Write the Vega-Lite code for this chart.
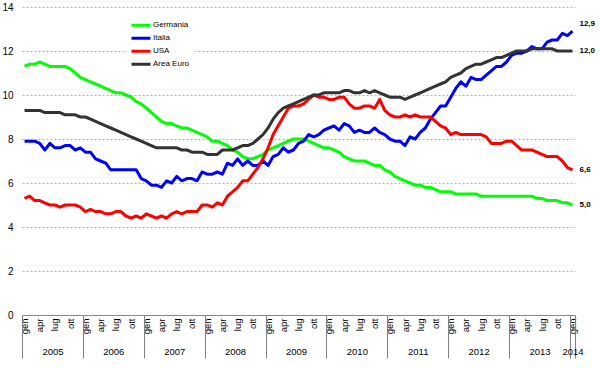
{
  "$schema": "https://vega.github.io/schema/vega-lite/v6.json",
  "width": 553,
  "height": 308,
  "padding": {"left": 1, "top": 2, "right": 0, "bottom": 0},
  "background": "white",
  "config": {
    "view": {"stroke": null},
    "font": "Liberation Sans",
    "locale": {"number": {"decimal": ",", "thousands": ".", "grouping": [3], "currency": ["", " €"]}}
  },
  "data": {"values": [
    {"t":0,"Germania":11.3,"Italia":7.9,"USA":5.3,"Area Euro":9.3},
    {"t":1,"Germania":11.4,"Italia":7.9,"USA":5.4,"Area Euro":9.3},
    {"t":2,"Germania":11.4,"Italia":7.9,"USA":5.2,"Area Euro":9.3},
    {"t":3,"Germania":11.5,"Italia":7.8,"USA":5.2,"Area Euro":9.3},
    {"t":4,"Germania":11.4,"Italia":7.5,"USA":5.1,"Area Euro":9.2},
    {"t":5,"Germania":11.3,"Italia":7.8,"USA":5.0,"Area Euro":9.2},
    {"t":6,"Germania":11.3,"Italia":7.6,"USA":5.0,"Area Euro":9.2},
    {"t":7,"Germania":11.3,"Italia":7.6,"USA":4.9,"Area Euro":9.2},
    {"t":8,"Germania":11.3,"Italia":7.7,"USA":5.0,"Area Euro":9.1},
    {"t":9,"Germania":11.2,"Italia":7.7,"USA":5.0,"Area Euro":9.1},
    {"t":10,"Germania":11.0,"Italia":7.5,"USA":5.0,"Area Euro":9.1},
    {"t":11,"Germania":10.8,"Italia":7.6,"USA":4.9,"Area Euro":9.0},
    {"t":12,"Germania":10.7,"Italia":7.4,"USA":4.7,"Area Euro":9.0},
    {"t":13,"Germania":10.6,"Italia":7.4,"USA":4.8,"Area Euro":8.9},
    {"t":14,"Germania":10.5,"Italia":7.1,"USA":4.7,"Area Euro":8.8},
    {"t":15,"Germania":10.4,"Italia":7.0,"USA":4.7,"Area Euro":8.7},
    {"t":16,"Germania":10.3,"Italia":6.9,"USA":4.6,"Area Euro":8.6},
    {"t":17,"Germania":10.2,"Italia":6.6,"USA":4.6,"Area Euro":8.5},
    {"t":18,"Germania":10.1,"Italia":6.6,"USA":4.7,"Area Euro":8.4},
    {"t":19,"Germania":10.1,"Italia":6.6,"USA":4.7,"Area Euro":8.3},
    {"t":20,"Germania":10.0,"Italia":6.6,"USA":4.5,"Area Euro":8.2},
    {"t":21,"Germania":9.9,"Italia":6.6,"USA":4.4,"Area Euro":8.1},
    {"t":22,"Germania":9.7,"Italia":6.6,"USA":4.5,"Area Euro":8.0},
    {"t":23,"Germania":9.6,"Italia":6.2,"USA":4.4,"Area Euro":7.9},
    {"t":24,"Germania":9.4,"Italia":6.1,"USA":4.6,"Area Euro":7.8},
    {"t":25,"Germania":9.2,"Italia":5.9,"USA":4.5,"Area Euro":7.7},
    {"t":26,"Germania":9.0,"Italia":5.9,"USA":4.4,"Area Euro":7.6},
    {"t":27,"Germania":8.8,"Italia":5.8,"USA":4.5,"Area Euro":7.6},
    {"t":28,"Germania":8.7,"Italia":6.1,"USA":4.4,"Area Euro":7.6},
    {"t":29,"Germania":8.7,"Italia":6.0,"USA":4.6,"Area Euro":7.6},
    {"t":30,"Germania":8.6,"Italia":6.3,"USA":4.7,"Area Euro":7.6},
    {"t":31,"Germania":8.5,"Italia":6.1,"USA":4.6,"Area Euro":7.5},
    {"t":32,"Germania":8.5,"Italia":6.2,"USA":4.7,"Area Euro":7.5},
    {"t":33,"Germania":8.4,"Italia":6.2,"USA":4.7,"Area Euro":7.4},
    {"t":34,"Germania":8.3,"Italia":6.1,"USA":4.7,"Area Euro":7.4},
    {"t":35,"Germania":8.2,"Italia":6.5,"USA":5.0,"Area Euro":7.4},
    {"t":36,"Germania":8.1,"Italia":6.4,"USA":5.0,"Area Euro":7.3},
    {"t":37,"Germania":7.9,"Italia":6.4,"USA":4.9,"Area Euro":7.3},
    {"t":38,"Germania":7.9,"Italia":6.5,"USA":5.1,"Area Euro":7.3},
    {"t":39,"Germania":7.8,"Italia":6.4,"USA":5.0,"Area Euro":7.5},
    {"t":40,"Germania":7.7,"Italia":6.9,"USA":5.4,"Area Euro":7.5},
    {"t":41,"Germania":7.5,"Italia":6.8,"USA":5.6,"Area Euro":7.5},
    {"t":42,"Germania":7.4,"Italia":7.1,"USA":5.8,"Area Euro":7.6},
    {"t":43,"Germania":7.2,"Italia":6.8,"USA":6.1,"Area Euro":7.7},
    {"t":44,"Germania":7.1,"Italia":7.0,"USA":6.1,"Area Euro":7.7},
    {"t":45,"Germania":7.1,"Italia":6.8,"USA":6.4,"Area Euro":7.8},
    {"t":46,"Germania":7.2,"Italia":6.8,"USA":6.7,"Area Euro":8.0},
    {"t":47,"Germania":7.3,"Italia":7.0,"USA":7.1,"Area Euro":8.2},
    {"t":48,"Germania":7.5,"Italia":6.8,"USA":7.6,"Area Euro":8.5},
    {"t":49,"Germania":7.6,"Italia":7.2,"USA":8.2,"Area Euro":8.9},
    {"t":50,"Germania":7.7,"Italia":7.3,"USA":8.6,"Area Euro":9.2},
    {"t":51,"Germania":7.8,"Italia":7.6,"USA":9.0,"Area Euro":9.4},
    {"t":52,"Germania":7.9,"Italia":7.4,"USA":9.4,"Area Euro":9.5},
    {"t":53,"Germania":8.0,"Italia":7.5,"USA":9.5,"Area Euro":9.6},
    {"t":54,"Germania":8.0,"Italia":7.8,"USA":9.5,"Area Euro":9.7},
    {"t":55,"Germania":8.0,"Italia":7.9,"USA":9.6,"Area Euro":9.8},
    {"t":56,"Germania":7.9,"Italia":8.2,"USA":9.8,"Area Euro":9.9},
    {"t":57,"Germania":7.8,"Italia":8.1,"USA":10.0,"Area Euro":10.0},
    {"t":58,"Germania":7.7,"Italia":8.2,"USA":9.9,"Area Euro":10.0},
    {"t":59,"Germania":7.6,"Italia":8.4,"USA":9.9,"Area Euro":10.1},
    {"t":60,"Germania":7.6,"Italia":8.5,"USA":9.8,"Area Euro":10.1},
    {"t":61,"Germania":7.5,"Italia":8.6,"USA":9.8,"Area Euro":10.1},
    {"t":62,"Germania":7.4,"Italia":8.4,"USA":9.9,"Area Euro":10.1},
    {"t":63,"Germania":7.2,"Italia":8.7,"USA":9.9,"Area Euro":10.2},
    {"t":64,"Germania":7.1,"Italia":8.6,"USA":9.6,"Area Euro":10.2},
    {"t":65,"Germania":7.0,"Italia":8.3,"USA":9.4,"Area Euro":10.1},
    {"t":66,"Germania":7.0,"Italia":8.4,"USA":9.4,"Area Euro":10.1},
    {"t":67,"Germania":7.0,"Italia":8.3,"USA":9.5,"Area Euro":10.2},
    {"t":68,"Germania":6.9,"Italia":8.3,"USA":9.5,"Area Euro":10.1},
    {"t":69,"Germania":6.8,"Italia":8.5,"USA":9.4,"Area Euro":10.2},
    {"t":70,"Germania":6.8,"Italia":8.3,"USA":9.8,"Area Euro":10.1},
    {"t":71,"Germania":6.6,"Italia":8.2,"USA":9.3,"Area Euro":10.0},
    {"t":72,"Germania":6.5,"Italia":8.0,"USA":9.1,"Area Euro":9.9},
    {"t":73,"Germania":6.3,"Italia":7.9,"USA":9.0,"Area Euro":9.9},
    {"t":74,"Germania":6.2,"Italia":7.9,"USA":9.0,"Area Euro":9.9},
    {"t":75,"Germania":6.1,"Italia":7.7,"USA":9.1,"Area Euro":9.8},
    {"t":76,"Germania":6.0,"Italia":8.1,"USA":9.0,"Area Euro":9.9},
    {"t":77,"Germania":5.9,"Italia":8.0,"USA":9.1,"Area Euro":10.0},
    {"t":78,"Germania":5.9,"Italia":8.3,"USA":9.0,"Area Euro":10.1},
    {"t":79,"Germania":5.8,"Italia":8.5,"USA":9.0,"Area Euro":10.2},
    {"t":80,"Germania":5.8,"Italia":8.9,"USA":9.0,"Area Euro":10.3},
    {"t":81,"Germania":5.7,"Italia":9.2,"USA":8.8,"Area Euro":10.4},
    {"t":82,"Germania":5.6,"Italia":9.5,"USA":8.6,"Area Euro":10.5},
    {"t":83,"Germania":5.6,"Italia":9.5,"USA":8.5,"Area Euro":10.6},
    {"t":84,"Germania":5.6,"Italia":9.9,"USA":8.2,"Area Euro":10.8},
    {"t":85,"Germania":5.5,"Italia":10.3,"USA":8.3,"Area Euro":10.9},
    {"t":86,"Germania":5.5,"Italia":10.6,"USA":8.2,"Area Euro":11.0},
    {"t":87,"Germania":5.5,"Italia":10.4,"USA":8.2,"Area Euro":11.2},
    {"t":88,"Germania":5.5,"Italia":10.8,"USA":8.2,"Area Euro":11.3},
    {"t":89,"Germania":5.5,"Italia":10.7,"USA":8.2,"Area Euro":11.4},
    {"t":90,"Germania":5.4,"Italia":10.7,"USA":8.2,"Area Euro":11.4},
    {"t":91,"Germania":5.4,"Italia":10.9,"USA":8.1,"Area Euro":11.5},
    {"t":92,"Germania":5.4,"Italia":11.1,"USA":7.8,"Area Euro":11.6},
    {"t":93,"Germania":5.4,"Italia":11.3,"USA":7.8,"Area Euro":11.7},
    {"t":94,"Germania":5.4,"Italia":11.3,"USA":7.8,"Area Euro":11.7},
    {"t":95,"Germania":5.4,"Italia":11.5,"USA":7.9,"Area Euro":11.8},
    {"t":96,"Germania":5.4,"Italia":11.8,"USA":7.9,"Area Euro":11.9},
    {"t":97,"Germania":5.4,"Italia":11.9,"USA":7.7,"Area Euro":12.0},
    {"t":98,"Germania":5.4,"Italia":11.9,"USA":7.5,"Area Euro":12.0},
    {"t":99,"Germania":5.4,"Italia":12.0,"USA":7.5,"Area Euro":12.0},
    {"t":100,"Germania":5.4,"Italia":12.2,"USA":7.5,"Area Euro":12.1},
    {"t":101,"Germania":5.3,"Italia":12.1,"USA":7.4,"Area Euro":12.1},
    {"t":102,"Germania":5.3,"Italia":12.1,"USA":7.3,"Area Euro":12.1},
    {"t":103,"Germania":5.2,"Italia":12.4,"USA":7.2,"Area Euro":12.1},
    {"t":104,"Germania":5.2,"Italia":12.5,"USA":7.2,"Area Euro":12.1},
    {"t":105,"Germania":5.2,"Italia":12.5,"USA":7.2,"Area Euro":12.0},
    {"t":106,"Germania":5.1,"Italia":12.8,"USA":7.0,"Area Euro":12.0},
    {"t":107,"Germania":5.1,"Italia":12.7,"USA":6.7,"Area Euro":12.0},
    {"t":108,"Germania":5.0,"Italia":12.9,"USA":6.6,"Area Euro":12.0}
  ]},
  "transform": [{"fold": ["Germania", "Italia", "USA", "Area Euro"], "as": ["serie", "v"]}],
  "layer": [
    {
      "mark": {"type": "line", "strokeWidth": 3, "strokeJoin": "round"},
      "encoding": {
        "x": {
          "field": "t", "type": "quantitative",
          "scale": {"domain": [-0.5, 108.5], "nice": false, "zero": false},
          "axis": {
            "orient": "bottom", "title": null,
            "values": [0,3,6,9,12,15,18,21,24,27,30,33,36,39,42,45,48,51,54,57,60,63,66,69,72,75,78,81,84,87,90,93,96,99,102,105,108],
            "labelExpr": "['gen','feb','mar','apr','mag','giu','lug','ago','set','ott','nov','dic'][datum.value % 12]",
            "labelAngle": -90, "labelAlign": "right", "labelBaseline": "middle",
            "labelPadding": 3, "labelFontSize": 9.5, "labelColor": "#000",
            "labelFlush": false, "labelOverlap": false,
            "ticks": false, "grid": false, "domain": true, "domainColor": "#888888", "domainWidth": 1
          }
        },
        "y": {
          "field": "v", "type": "quantitative",
          "scale": {"domain": [0, 14], "nice": false, "zero": true},
          "axis": {
            "title": null, "values": [0,2,4,6,8,10,12,14],
            "domain": false, "ticks": false, "grid": true,
            "gridColor": "#b4b4b4", "gridDash": [2, 2], "gridWidth": 1,
            "labelFontSize": 10, "labelPadding": 9, "labelColor": "#000"
          }
        },
        "color": {
          "field": "serie", "type": "nominal",
          "scale": {"domain": ["Germania", "Italia", "USA", "Area Euro"], "range": ["#00ff00", "#0000ff", "#ff0000", "#333333"]},
          "legend": {
            "orient": "none", "legendX": 105, "legendY": 9, "title": null,
            "symbolType": "stroke", "symbolSize": 361, "symbolStrokeWidth": 3,
            "labelFontSize": 8, "labelOffset": 1, "labelColor": "#000",
            "clipHeight": 12.3, "rowPadding": 0, "padding": 3, "fillColor": "white"
          }
        }
      }
    },
    {
      "mark": {"type": "point", "opacity": 0},
      "encoding": {
        "x": {
          "field": "t", "type": "quantitative",
          "axis": {
            "orient": "bottom", "title": null,
            "values": [-0.5, 11.5, 23.5, 35.5, 47.5, 59.5, 71.5, 83.5, 95.5, 107.5, 108.5],
            "labels": false, "ticks": true, "tickSize": 43, "tickColor": "#808080", "tickWidth": 1,
            "domain": false, "grid": false
          }
        },
        "y": {"field": "v", "type": "quantitative"}
      }
    },
    {
      "mark": {"type": "point", "opacity": 0},
      "encoding": {
        "x": {
          "field": "t", "type": "quantitative",
          "axis": {
            "orient": "bottom", "title": null,
            "values": [5.5, 17.5, 29.5, 41.5, 53.5, 65.5, 77.5, 89.5, 101.5, 108],
            "labelExpr": "datum.value == 108 ? '2014' : '' + (2005 + floor(datum.value / 12))",
            "ticks": false, "domain": false, "grid": false,
            "labelPadding": 31, "labelFontSize": 9.5, "labelColor": "#000",
            "labelFlush": false, "labelOverlap": false
          }
        },
        "y": {"field": "v", "type": "quantitative"}
      }
    },
    {
      "transform": [{"filter": "datum.t == 108 && datum.serie == 'Italia'"}],
      "mark": {"type": "text", "align": "left", "baseline": "middle", "dx": 7, "dy": -7, "fontWeight": "bold", "fontSize": 8, "color": "#000"},
      "encoding": {
        "x": {"field": "t", "type": "quantitative", "axis": null},
        "y": {"field": "v", "type": "quantitative"},
        "text": {"field": "v", "type": "quantitative", "format": ".1f"}
      }
    },
    {
      "transform": [{"filter": "datum.t == 108 && datum.serie != 'Italia'"}],
      "mark": {"type": "text", "align": "left", "baseline": "middle", "dx": 7, "fontWeight": "bold", "fontSize": 8, "color": "#000"},
      "encoding": {
        "x": {"field": "t", "type": "quantitative", "axis": null},
        "y": {"field": "v", "type": "quantitative"},
        "text": {"field": "v", "type": "quantitative", "format": ".1f"}
      }
    }
  ],
  "resolve": {"axis": {"x": "independent"}}
}
